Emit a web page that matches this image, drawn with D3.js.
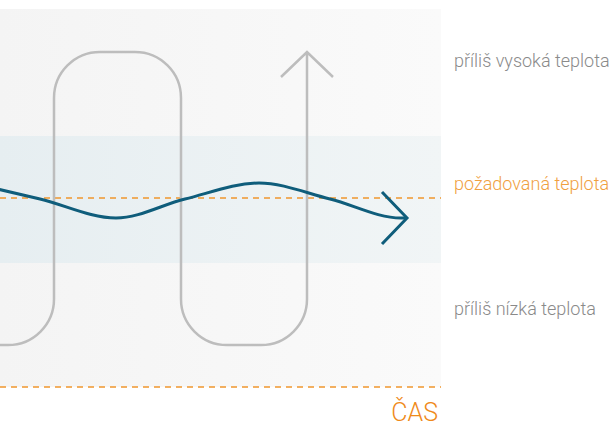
<!DOCTYPE html>
<html><head><meta charset="utf-8">
<script src="https://cdn.jsdelivr.net/npm/d3@7"></script>
<style>html,body{margin:0;padding:0;background:#fff;overflow:hidden}</style>
</head><body>
<svg id="c" width="614" height="427"></svg>
<script>
// ---- data ----
const zoneLabels = ["příliš vysoká teplota", "požadovaná teplota", "příliš nízká teplota"];
const zoneLabelValues = [320, 197, 72];          // temperature value at which each label sits
const axisLabel = "ČAS";
const timeDomain = [0, 441];
const tempDomain = [0, 378];
const bandRange = [124, 251];                     // desired band (low, high)
const desiredTemp = 189;
// on/off controller (gray): switch times and levels
const switchTimes = [-73, 54, 181, 307];
const onOffLevels = [42, 335];                    // low, high
// regulated temperature (teal)
const waveTime = [-28, 40, 116, 185, 259, 330, 401, 407];
const waveTemp = [204, 188, 169, 188, 204, 188, 169, 169];

// ---- drawing ----
const svg = d3.select("#c");
const x = d3.scaleLinear().domain(timeDomain).range([0, 441]);
const y = d3.scaleLinear().domain(tempDomain).range([387, 9]);

const defs = svg.append("defs");
const g1 = defs.append("linearGradient").attr("id","panelG");
g1.append("stop").attr("offset","0%").attr("stop-color","#f4f4f4");
g1.append("stop").attr("offset","100%").attr("stop-color","#fafafa");
const g2 = defs.append("linearGradient").attr("id","bandG");
g2.append("stop").attr("offset","0%").attr("stop-color","#e6eef1");
g2.append("stop").attr("offset","100%").attr("stop-color","#f1f5f6");
defs.append("clipPath").attr("id","clip").append("rect")
  .attr("x", x(timeDomain[0])).attr("y", 0).attr("width", x(timeDomain[1]) - x(timeDomain[0])).attr("height", 427);

svg.append("rect").attr("x", x(timeDomain[0])).attr("y", y(tempDomain[1]))
  .attr("width", x(timeDomain[1]) - x(timeDomain[0])).attr("height", y(tempDomain[0]) - y(tempDomain[1]))
  .attr("fill","url(#panelG)");
svg.append("rect").attr("x", x(timeDomain[0])).attr("y", y(bandRange[1]))
  .attr("width", x(timeDomain[1]) - x(timeDomain[0])).attr("height", y(bandRange[0]) - y(bandRange[1]))
  .attr("fill","url(#bandG)");

const orange = "#f0962e";
svg.append("line").attr("x1", x(timeDomain[0])).attr("x2", x(timeDomain[1]))
  .attr("y1", y(desiredTemp)).attr("y2", y(desiredTemp))
  .attr("stroke", orange).attr("stroke-width", 1.5).attr("stroke-dasharray","6,5");
svg.append("line").attr("x1", x(timeDomain[0])).attr("x2", x(timeDomain[1]))
  .attr("y1", y(tempDomain[0])).attr("y2", y(tempDomain[0]))
  .attr("stroke", orange).attr("stroke-width", 1.5).attr("stroke-dasharray","6,5");

const clipG = svg.append("g").attr("clip-path","url(#clip)");

// gray on/off path with rounded corners
const r = 46;
const pts = [];
switchTimes.forEach((t, i) => {
  const from = i % 2 === 0 ? onOffLevels[1] : onOffLevels[0];
  const to = i % 2 === 0 ? onOffLevels[0] : onOffLevels[1];
  pts.push([x(t), y(from)], [x(t), y(to)]);
});
const p = d3.path();
p.moveTo(pts[0][0], pts[0][1]);
for (let i = 1; i < pts.length - 1; i++) p.arcTo(pts[i][0], pts[i][1], pts[i+1][0], pts[i+1][1], r);
const last = pts[pts.length - 1];
p.lineTo(last[0], last[1]);
p.moveTo(last[0] - 26, last[1] + 25);
p.lineTo(last[0], last[1]);
p.lineTo(last[0] + 26, last[1] + 25);
clipG.append("path").attr("d", p.toString()).attr("fill","none")
  .attr("stroke","#bdbdbd").attr("stroke-width", 2.5).attr("stroke-linejoin","miter");

// teal regulated temperature
const teal = "#0f5d7b";
const line = d3.line().x((d,i) => x(waveTime[i])).y(d => y(d)).curve(d3.curveMonotoneX);
clipG.append("path").attr("d", line(waveTemp)).attr("fill","none")
  .attr("stroke", teal).attr("stroke-width", 3);
const tip = [x(waveTime[waveTime.length-1]), y(waveTemp[waveTemp.length-1])];
clipG.append("path")
  .attr("d", `M${tip[0]-25},${tip[1]-26}L${tip[0]},${tip[1]}L${tip[0]-25},${tip[1]+26}`)
  .attr("fill","none").attr("stroke", teal).attr("stroke-width", 3);

// labels
const font = "Roboto, 'Liberation Sans', sans-serif";
const colors = ["#8a8a8a", "#f0a040", "#8a8a8a"];
zoneLabels.forEach((t, i) => {
  svg.append("text").attr("x", 454).attr("y", y(zoneLabelValues[i]))
    .attr("font-family", font).attr("font-weight", 300).attr("font-size", 18)
    .attr("fill", colors[i]).text(t);
});
svg.append("text").attr("x", 438).attr("y", 421).attr("text-anchor","end")
  .attr("font-family", font).attr("font-weight", 300).attr("font-size", 25)
  .attr("fill", "#ef8a1a").text(axisLabel);
</script>
</body></html>
